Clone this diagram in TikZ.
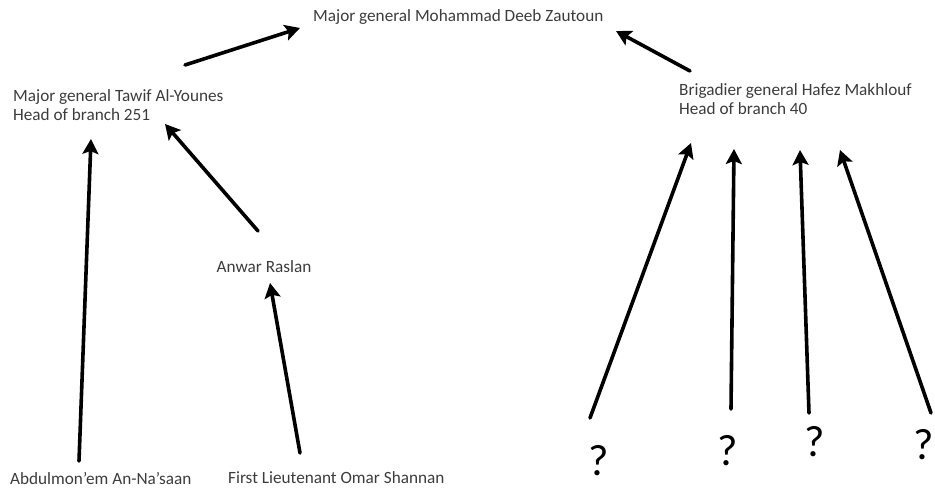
\documentclass[tikz,border=0pt]{standalone}
\usepackage{fontspec}
\setmainfont{Carlito}
\usetikzlibrary{arrows.meta}
\definecolor{txt}{HTML}{3C3C3C}
\tikzset{
  lbl/.style={text=txt, font=\fontsize{17.2}{19}\selectfont, inner sep=0pt, align=left},
  qm/.style={text=black, font=\fontsize{44}{44}\selectfont, inner sep=0pt},
  arr/.style={draw=black, line width=3.6pt, line cap=round, -{Stealth[length=15pt,width=16pt,inset=3pt]}}
}
\begin{document}
\begin{tikzpicture}[x=1pt,y=-1pt]
\useasboundingbox (0,0) rectangle (935,489);
% labels
\node[lbl, anchor=west] (zaut) at (313,17) {Major general Mohammad Deeb Zautoun};
\node[lbl, anchor=west] (youn) at (13,105) {Major general Tawif Al-Younes\\Head of branch 251};
\node[lbl, anchor=west] (makh) at (679,99) {Brigadier general Hafez Makhlouf\\Head of branch 40};
\node[lbl] (rasl) at (264,267) {Anwar Raslan};
\node[lbl, anchor=west] (nasa) at (10,478) {Abdulmon'em An-Na'saan};
\node[lbl, anchor=west] (shan) at (228,478) {First Lieutenant Omar Shannan};
\node[qm] (q1) at (599,461) {?};
\node[qm] (q2) at (728,451) {?};
\node[qm] (q3) at (815,442) {?};
\node[qm] (q4) at (924,445) {?};
% arrow ends
\coordinate (a1t) at (185,65);  \coordinate (a1h) at (300,28);
\coordinate (a2t) at (690,71);  \coordinate (a2h) at (616,31);
\coordinate (a3t) at (79,461);  \coordinate (a3h) at (91,139);
\coordinate (a4t) at (258,231); \coordinate (a4h) at (165,124);
\coordinate (a5t) at (300,453); \coordinate (a5h) at (270,283);
\coordinate (a6t) at (590,418); \coordinate (a6h) at (691,143);
\coordinate (a7t) at (731,409); \coordinate (a7h) at (734,149);
\coordinate (a8t) at (809,413); \coordinate (a8h) at (800,150);
\coordinate (a9t) at (931,413); \coordinate (a9h) at (840,150);
% arrows
\draw[arr] (a1t) -- (a1h);
\draw[arr] (a2t) -- (a2h);
\draw[arr] (a3t) -- (a3h);
\draw[arr] (a4t) -- (a4h);
\draw[arr] (a5t) -- (a5h);
\draw[arr] (a6t) -- (a6h);
\draw[arr] (a7t) -- (a7h);
\draw[arr] (a8t) -- (a8h);
\draw[arr] (a9t) -- (a9h);
\end{tikzpicture}
\end{document}
